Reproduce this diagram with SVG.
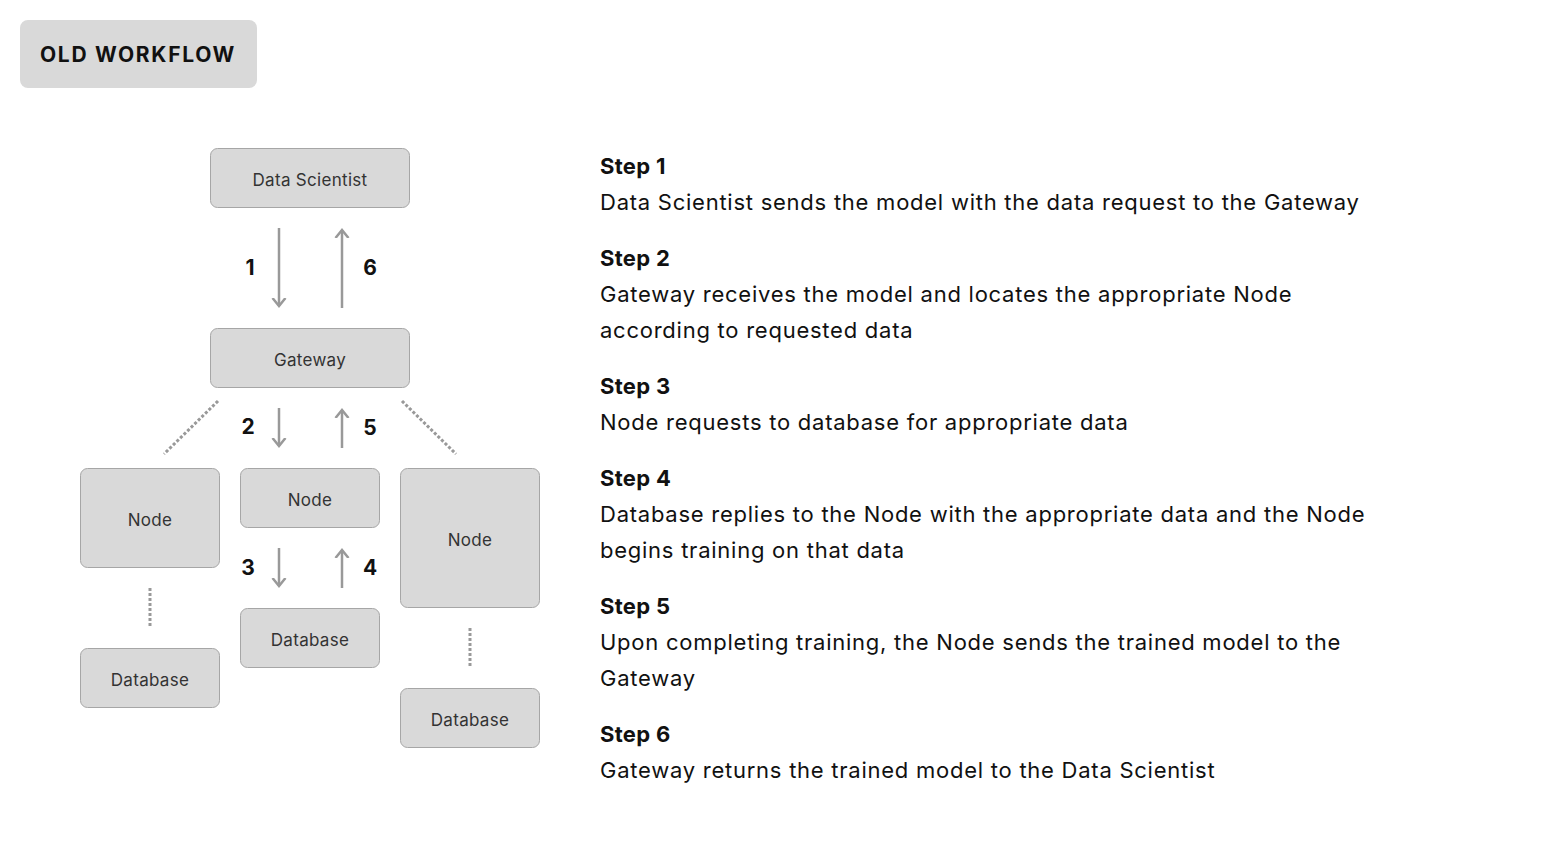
<svg xmlns="http://www.w3.org/2000/svg" width="1550" height="848" viewBox="0 0 1550 848">
<style>
.box{fill:#d9d9d9;stroke:#a6a6a6;stroke-width:1}
.lbl{font-family:Inter,"Open Sans",sans-serif;font-size:17px;letter-spacing:0.3px;fill:#333;text-anchor:middle}
.num{font-family:Inter,"Open Sans",sans-serif;font-size:21px;font-weight:700;fill:#111;text-anchor:middle}
.arr{stroke:#999;stroke-width:2.5;fill:none;marker-end:url(#ah)}
.dot{stroke:#999;stroke-width:3;stroke-dasharray:3 2;fill:none}
.sh{font-family:Inter,"Open Sans",sans-serif;font-size:22px;font-weight:700;letter-spacing:0.3px;fill:#111}
.st{font-family:Inter,"Open Sans",sans-serif;font-size:22px;letter-spacing:0.75px;fill:#111}
</style>
<defs>
<marker id="ah" markerUnits="userSpaceOnUse" markerWidth="16" markerHeight="16" refX="8" refY="8" orient="auto" viewBox="0 0 16 16">
<path d="M0,1.5 L8,8 L0,14.5" fill="none" stroke="#999" stroke-width="2.5"/>
</marker>
</defs>
<rect width="1550" height="848" fill="#fff"/>
<g id="title">
<rect x="20" y="20" width="237" height="68" rx="8" fill="#d9d9d9"/>
<text x="138" y="62" font-family="Inter,'Open Sans',sans-serif" font-size="21" font-weight="700" letter-spacing="1.7" fill="#111" text-anchor="middle">OLD WORKFLOW</text>
</g>
<g id="data-scientist"><rect class="box" x="210.5" y="148.5" width="199" height="59" rx="7"/><text class="lbl" x="310" y="186">Data Scientist</text></g>
<g id="gateway"><rect class="box" x="210.5" y="328.5" width="199" height="59" rx="7"/><text class="lbl" x="310" y="366">Gateway</text></g>
<g id="node-left"><rect class="box" x="80.5" y="468.5" width="139" height="99" rx="7"/><text class="lbl" x="150" y="526">Node</text></g>
<g id="node-mid"><rect class="box" x="240.5" y="468.5" width="139" height="59" rx="7"/><text class="lbl" x="310" y="506">Node</text></g>
<g id="node-right"><rect class="box" x="400.5" y="468.5" width="139" height="139" rx="7"/><text class="lbl" x="470" y="546">Node</text></g>
<g id="db-left"><rect class="box" x="80.5" y="648.5" width="139" height="59" rx="7"/><text class="lbl" x="150" y="686">Database</text></g>
<g id="db-mid"><rect class="box" x="240.5" y="608.5" width="139" height="59" rx="7"/><text class="lbl" x="310" y="646">Database</text></g>
<g id="db-right"><rect class="box" x="400.5" y="688.5" width="139" height="59" rx="7"/><text class="lbl" x="470" y="726">Database</text></g>
<g id="connectors">
<line class="arr" x1="279" y1="228" x2="279" y2="306"/>
<line class="arr" x1="342" y1="308" x2="342" y2="230"/>
<line class="arr" x1="279" y1="408" x2="279" y2="446"/>
<line class="arr" x1="342" y1="448" x2="342" y2="410"/>
<line class="arr" x1="279" y1="548" x2="279" y2="586"/>
<line class="arr" x1="342" y1="588" x2="342" y2="550"/>
<line class="dot" x1="218" y1="401" x2="164" y2="454"/>
<line class="dot" x1="402" y1="401" x2="456" y2="454"/>
<line class="dot" x1="150" y1="588" x2="150" y2="628"/>
<line class="dot" x1="470" y1="628" x2="470" y2="668"/>
<text class="num" x="250" y="275">1</text>
<text class="num" x="370" y="275">6</text>
<text class="num" x="248" y="434">2</text>
<text class="num" x="370" y="435">5</text>
<text class="num" x="248" y="575">3</text>
<text class="num" x="370" y="575">4</text>
</g>
<g id="steps">
<text class="sh" x="600" y="174">Step 1</text>
<text class="st" x="600" y="210">Data Scientist sends the model with the data request to the Gateway</text>
<text class="sh" x="600" y="266">Step 2</text>
<text class="st" x="600" y="302">Gateway receives the model and locates the appropriate Node</text>
<text class="st" x="600" y="338">according to requested data</text>
<text class="sh" x="600" y="394">Step 3</text>
<text class="st" x="600" y="430">Node requests to database for appropriate data</text>
<text class="sh" x="600" y="486">Step 4</text>
<text class="st" x="600" y="522">Database replies to the Node with the appropriate data and the Node</text>
<text class="st" x="600" y="558">begins training on that data</text>
<text class="sh" x="600" y="614">Step 5</text>
<text class="st" x="600" y="650">Upon completing training, the Node sends the trained model to the</text>
<text class="st" x="600" y="686">Gateway</text>
<text class="sh" x="600" y="742">Step 6</text>
<text class="st" x="600" y="778">Gateway returns the trained model to the Data Scientist</text>
</g>
</svg>
